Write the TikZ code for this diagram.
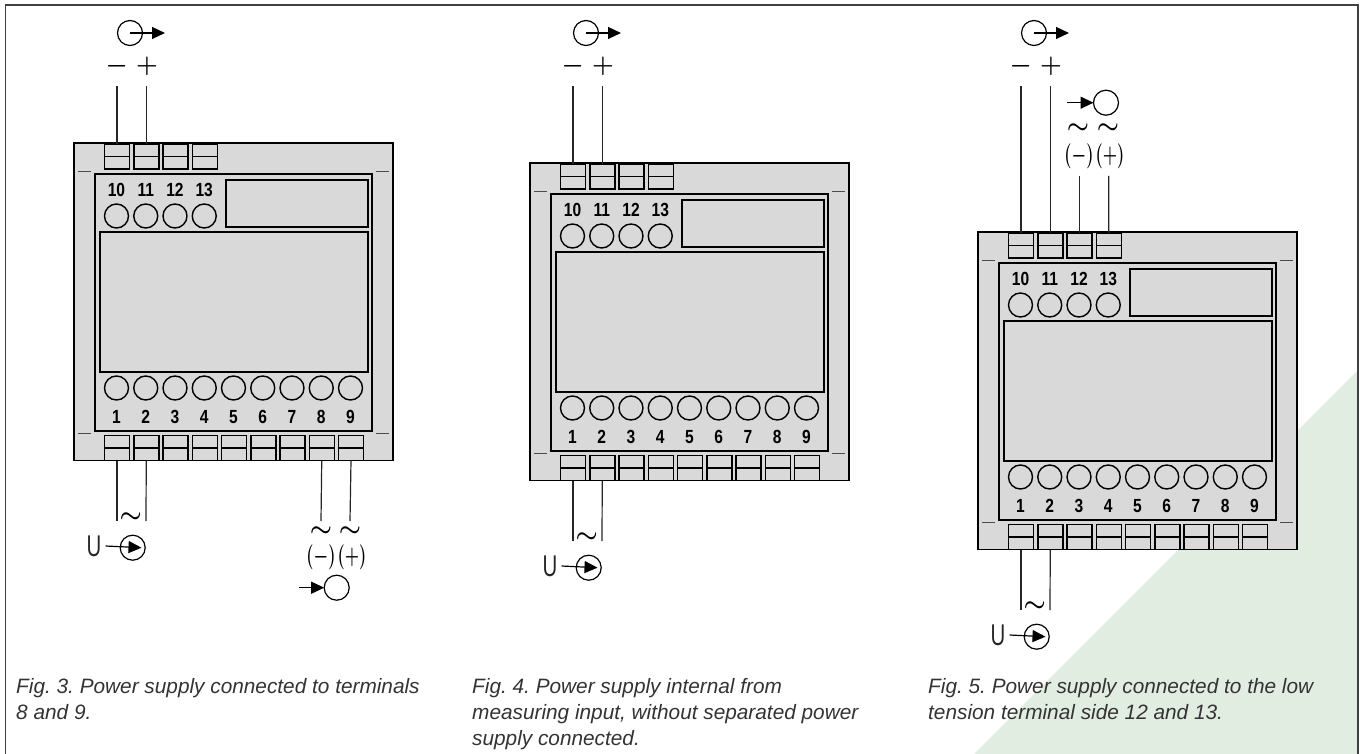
\documentclass[tikz,border=0pt]{standalone}
\usepackage{fontspec}
\usepackage{graphicx}
\usepackage{tikz}
\usetikzlibrary{arrows.meta}
\setmainfont{Liberation Sans}
\newfontfamily\termfont[FakeStretch=0.82]{Liberation Sans}
\definecolor{devgray}{HTML}{D9D9D9}
\definecolor{cornergreen}{HTML}{E2EDE2}
\tikzset{
	casebox/.style={draw, line width=1.7pt, fill=devgray},
	termbox/.style={draw, line width=1.5pt, fill=devgray, minimum width=25pt, minimum height=25pt, inner sep=0pt, outer sep=0pt},
	screwhole/.style={draw, circle, line width=1.4pt, minimum size=24pt, inner sep=0pt, outer sep=0pt},
	ring/.style={draw, circle, line width=1.2pt, minimum size=25pt, inner sep=0pt, outer sep=0pt},
	wire/.style={line width=1.2pt, black!85},
	pointer/.style={line width=1.2pt, -{Triangle[length=13pt, width=12pt]}},
	tick/.style={line width=0.8pt, black!70},
	numlabel/.style={inner sep=0pt, font=\termfont\bfseries\fontsize{19}{19}\selectfont},
	signlabel/.style={inner sep=0pt, font=\boldmath\fontsize{23}{23}\selectfont},
	tildelabel/.style={inner sep=0pt, font=\boldmath\fontsize{26}{26}\selectfont},
	letterlabel/.style={inner sep=0pt, black!85, font=\fontsize{30}{30}\selectfont},
	caption/.style={anchor=north west, inner sep=0pt, align=left, black!80, font=\frenchspacing\itshape\fontsize{20.8}{26}\selectfont},
}
\begin{document}
\begin{tikzpicture}[x=1pt, y=-1pt]
	\useasboundingbox (0,0) rectangle (1363,754);
	\fill [cornergreen] (1358,370) -- (974,754) -- (1358,754) -- cycle;
	\draw [line width=1.6pt, black!75] (5.5,754) -- (5.5,5) -- (1358,5) -- (1358,754);
	% the three instruments
	\foreach \dev/\dx/\dy in {a/74/143, b/530/163, c/978/232} {
		\begin{scope}[shift={(\dx,\dy)}]
			\draw [casebox] (0,0) rectangle (319,317.5);
			\draw [casebox] (21,31) rectangle (298,288);
			\draw [casebox] (152,37) rectangle (294,84);
			\draw [casebox] (26,89) rectangle (294,229);
			\draw [tick] (4,28) -- (17,28);
			\draw [tick] (302,28) -- (315,28);
			\draw [tick] (4,290) -- (17,290);
			\draw [tick] (302,290) -- (315,290);
			\foreach \i/\lab in {1/10, 2/11, 3/12, 4/13} {
				\node [termbox] (\dev t\i) at ({43+29.25*(\i-1)},13.5) {};
				\draw [line width=1.5pt] (\dev t\i.west) -- (\dev t\i.east);
				\node [screwhole] (\dev h\i) at ({42.5+29.25*(\i-1)},73) {};
				\node [numlabel] (\dev n\i) at ({42.5+29.25*(\i-1)},47) {\lab};
			}
			\foreach \i in {1,...,9} {
				\node [termbox] (\dev p\i) at ({43+29.25*(\i-1)},305) {};
				\draw [line width=1.5pt] (\dev p\i.west) -- (\dev p\i.east);
				\node [screwhole] (\dev q\i) at ({42.5+29.25*(\i-1)},245) {};
				\node [numlabel] (\dev m\i) at ({42.5+29.25*(\i-1)},274) {\i};
			}
			% measuring input
			\coordinate (\dev ua) at (43,378);
			\coordinate (\dev ub) at (72,378);
			\draw [wire] (\dev p1.south) -- (\dev ua);
			\draw [wire] (\dev p2.south) -- (\dev ub);
			\node [tildelabel] (\dev ac) at (56.7,375) {$\sim$};
			\node [letterlabel] (\dev u) at (20,403) {\scalebox{.68}[1]{U}};
			\node [ring] (\dev in) at (58.7,404.7) {};
			\coordinate (\dev intip) at (67.5,404.7);
			\draw [pointer] ([xshift=4pt]\dev u.east) -- (\dev intip);
		\end{scope}
		% analogue output
		\node [ring] (\dev out) at ({\dx+56},33) {};
		\coordinate (\dev outtip) at ({\dx+91},33);
		\draw [pointer] (\dev out.center) -- (\dev outtip);
		\node [signlabel] (\dev neg) at ({\dx+42.7},66) {$-$};
		\node [signlabel] (\dev pos) at ({\dx+73},66) {$+$};
		\coordinate (\dev wa) at ({\dx+43},86);
		\coordinate (\dev wb) at ({\dx+72.25},86);
		\draw [wire] (\dev t1.north) -- (\dev wa);
		\draw [wire] (\dev t2.north) -- (\dev wb);
	}
	% supply on 8 and 9
	\coordinate (asa) at (321,521);
	\coordinate (asb) at (350,521);
	\draw [wire] (ap8.south) -- (asa);
	\draw [wire] (ap9.south) -- (asb);
	\node [tildelabel] (aacn) at (321,532) {$\sim$};
	\node [tildelabel] (aacp) at (350,532) {$\sim$};
	\node [signlabel] (asn) at (321,557) {\scalebox{.66}[1]{$(-)$}};
	\node [signlabel] (asp) at (352,557) {\scalebox{.66}[1]{$(+)$}};
	\node [ring] (asup) at (336.7,587.7) {};
	\coordinate (astail) at (299,587.7);
	\draw [pointer] (astail) -- (asup.west);
	% supply on 12 and 13
	\coordinate (csa) at (1079.5,176);
	\coordinate (csb) at (1108.8,176);
	\draw [wire] (ct3.north) -- (csa);
	\draw [wire] (ct4.north) -- (csb);
	\node [signlabel] (csn) at (1079,156) {\scalebox{.66}[1]{$(-)$}};
	\node [signlabel] (csp) at (1110,156) {\scalebox{.66}[1]{$(+)$}};
	\node [tildelabel] (cacn) at (1078,129) {$\sim$};
	\node [tildelabel] (cacp) at (1108,129) {$\sim$};
	\node [ring] (csup) at (1106,102.7) {};
	\coordinate (cstail) at (1067,102.7);
	\draw [pointer] (cstail) -- (csup.west);
	% captions
	\node [caption] (cap3) at (16,678) {Fig. 3. Power supply connected to terminals\\8 and 9.};
	\node [caption] (cap4) at (472,678) {Fig. 4. Power supply internal from\\measuring input, without separated power\\supply connected.};
	\node [caption] (cap5) at (928,678) {Fig. 5. Power supply connected to the low\\tension terminal side 12 and 13.};
\end{tikzpicture}
\end{document}
